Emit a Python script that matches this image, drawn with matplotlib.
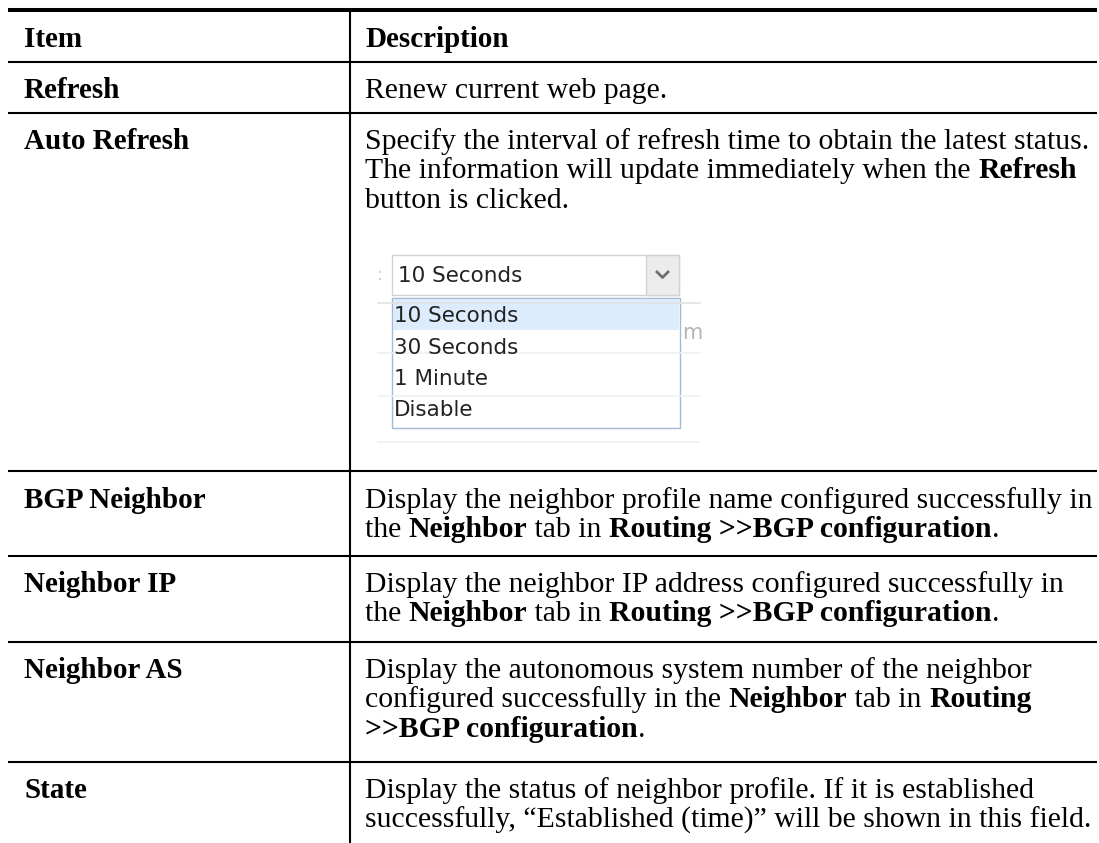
import matplotlib
matplotlib.use("Agg")
import matplotlib.pyplot as plt
from matplotlib.patches import Rectangle

# table content
headers = ["Item", "Description"]
items = ["Refresh", "Auto Refresh", "BGP Neighbor", "Neighbor IP", "Neighbor AS", "State"]

# each description is a list of lines, each line a list of (text, bold) segments
descriptions = [
    [[("Renew current web page.", False)]],
    [[("Specify the interval of refresh time to obtain the latest status.", False)],
     [("The information will update immediately when the ", False), ("Refresh", True)],
     [("button is clicked.", False)]],
    [[("Display the neighbor profile name configured successfully in", False)],
     [("the ", False), ("Neighbor", True), (" tab in ", False),
      ("Routing >>BGP configuration", True), (".", False)]],
    [[("Display the neighbor IP address configured successfully in", False)],
     [("the ", False), ("Neighbor", True), (" tab in ", False),
      ("Routing >>BGP configuration", True), (".", False)]],
    [[("Display the autonomous system number of the neighbor", False)],
     [("configured successfully in the ", False), ("Neighbor", True),
      (" tab in ", False), ("Routing", True)],
     [(">>BGP configuration", True), (".", False)]],
    [[("Display the status of neighbor profile. If it is established", False)],
     [("successfully, \u201cEstablished (time)\u201d will be shown in this field.", False)]],
]

dropdown_selected = "10 Seconds"
dropdown_options = ["10 Seconds", "30 Seconds", "1 Minute", "Disable"]

# layout (pixel coordinates, y downwards)
W, H = 1099, 843
row_lines = [62, 113, 471, 556, 642, 762]
first_baselines = [98, 149, 508, 592, 678, 798]
line_gap = 29.3
x_left, x_div, x_right = 8, 350, 1097
x_item, x_desc = 24, 365
serif = "Liberation Serif"
fs_label = 21
fs = 21.4

fig = plt.figure(figsize=(W / 100, H / 100), dpi=100)
ax = fig.add_axes([0, 0, 1, 1])
ax.set_xlim(0, W)
ax.set_ylim(H, 0)
ax.axis("off")

fig.canvas.draw()
renderer = fig.canvas.get_renderer()


def text_w(s, weight):
    t = ax.text(0, 0, s, family=serif, fontsize=fs, fontweight=weight)
    w = t.get_window_extent(renderer).width
    t.remove()
    return w


def seg_width(s, weight):
    # sentinels on both sides so leading/trailing spaces are counted
    return text_w("|" + s + "|", weight) - text_w("||", weight)


def draw_line(x, y, segs):
    for s, b in segs:
        weight = "bold" if b else "normal"
        ax.text(x, y, s, family=serif, fontsize=fs, fontweight=weight,
                va="baseline", ha="left", color="black")
        x += seg_width(s, weight)


# rules
ax.plot([x_left, x_right], [9.5, 9.5], color="black", lw=2.9, solid_capstyle="butt")
for y in row_lines:
    ax.plot([x_left, x_right], [y, y], color="black", lw=1.5, solid_capstyle="butt")
ax.plot([x_div, x_div], [8, H], color="black", lw=1.5, solid_capstyle="butt")

# header
ax.text(x_item, 47, headers[0], family=serif, fontsize=fs_label, fontweight="bold", va="baseline")
ax.text(x_desc, 47, headers[1], family=serif, fontsize=fs_label, fontweight="bold", va="baseline")

# rows
for name, desc, yb in zip(items, descriptions, first_baselines):
    ax.text(x_item, yb, name, family=serif, fontsize=fs_label, fontweight="bold", va="baseline")
    for i, segs in enumerate(desc):
        draw_line(x_desc, yb + i * line_gap, segs)

# dropdown screenshot inside the Auto Refresh row
ax.plot([378, 700], [303, 303], color="#e2e2e2", lw=1.2)
for y in [353, 396, 442]:
    ax.plot([378, 700], [y, y], color="#f0f0f0", lw=1.2)
ax.text(377, 280, ":", family="DejaVu Sans", fontsize=12, color="#cccccc", va="baseline")
ax.text(682, 339, "m", family="DejaVu Sans", fontsize=15, color="#b4b4b4", va="baseline")

ax.add_patch(Rectangle((392, 255), 287, 40, facecolor="white", edgecolor="#d2d2d2", lw=1))
ax.add_patch(Rectangle((646, 255), 33, 40, facecolor="#ececec", edgecolor="#d2d2d2", lw=1))
ax.plot([657, 662.5, 668], [272, 277.5, 272], color="#6e6e6e", lw=2)
ax.text(398, 282, dropdown_selected, family="DejaVu Sans", fontsize=15.5,
        color="#222222", va="baseline")

ax.add_patch(Rectangle((392, 298), 288, 130, facecolor="white", edgecolor="#a3bad6", lw=1))
ax.add_patch(Rectangle((393, 299), 286, 31, facecolor="#dcecfd", edgecolor="none"))
for i, opt in enumerate(dropdown_options):
    ax.text(394, 322 + i * 31.5, opt, family="DejaVu Sans", fontsize=15.5,
            color="#222222", va="baseline")

fig.savefig("out.png", dpi=100)
plt.close(fig)
